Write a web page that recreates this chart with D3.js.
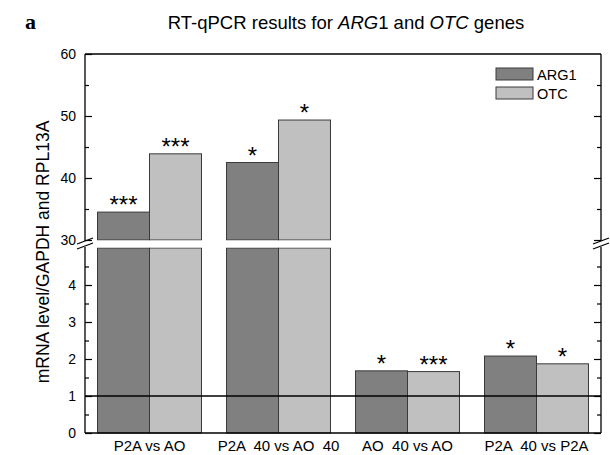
<!DOCTYPE html>
<html>
<head>
<meta charset="utf-8">
<script src="https://cdn.jsdelivr.net/npm/d3@7"></script>
<style>
  body { margin: 0; background: #fff; }
  svg { display: block; }
</style>
</head>
<body>
<div id="chart"></div>
<script>
// values
const groups = ["P2A vs AO", "P2A  40 vs AO  40", "AO  40 vs AO", "P2A  40 vs P2A"]
const arg1 = [34.5, 42.5, 1.68, 2.08]
const otc = [43.9, 49.35, 1.66, 1.87]
const arg1Stars = ["***", "*", "*", "*"]
const otcStars = ["***", "*", "***", "*"]
const lowTicks = [0, 1, 2, 3, 4]
const lowMinor = [0.5, 1.5, 2.5, 3.5, 4.5]
const highTicks = [30, 40, 50, 60]
const highMinor = [35, 45, 55]
const seriesNames = ["ARG1", "OTC"]
const seriesColors = ["#808080", "#c0c0c0"]

const width = 610, height = 455
const plotLeft = 85, plotRight = 601, plotTop = 54, plotBottom = 433
const breakLow = 248, breakHigh = 240
const font = "Liberation Sans, Arial, sans-serif"

const svg = d3.select("#chart").append("svg")
    .attr("width", width).attr("height", height)
    .style("font-family", font)

const x = d3.scaleBand().domain(groups).range([plotLeft, plotRight])
    .paddingInner(0.194).paddingOuter(0.097)
const sub = d3.scaleBand().domain([0, 1]).range([0, x.bandwidth()])

// broken y axis: two linear pieces
const yLow = d3.scaleLinear().domain([0, 5]).range([plotBottom, breakLow])
const yHigh = d3.scaleLinear().domain([30, 60]).range([breakHigh, plotTop])
const yOf = v => v > 5 ? yHigh(v) : yLow(v)

let bars = []
groups.forEach((g, i) => {
    bars.push({g, s: 0, v: arg1[i], star: arg1Stars[i]})
    bars.push({g, s: 1, v: otc[i], star: otcStars[i]})
})

const barG = svg.append("g")
bars.forEach(d => {
    let bx = x(d.g) + sub(d.s)
    let pieces = d.v > 5 ? [[yLow(0), yLow(5)], [yHigh(30), yHigh(d.v)]] : [[yLow(0), yLow(d.v)]]
    pieces.forEach(p => {
        barG.append("rect")
            .attr("x", bx).attr("y", p[1])
            .attr("width", sub.bandwidth()).attr("height", p[0] - p[1])
            .attr("fill", seriesColors[d.s])
            .attr("stroke", "#3a3a3a").attr("stroke-width", 1)
    })
    svg.append("text")
        .attr("x", bx + sub.bandwidth() / 2)
        .attr("y", yOf(d.v) + 1)
        .attr("text-anchor", "middle")
        .style("font-size", "24px")
        .text(d.star)
})

// white gap of the axis break
svg.append("rect")
    .attr("x", plotLeft + 1).attr("y", breakHigh + 0.5)
    .attr("width", plotRight - plotLeft - 2).attr("height", breakLow - breakHigh - 1)
    .attr("fill", "#fff")

// reference line at 1
svg.append("line")
    .attr("x1", plotLeft).attr("x2", plotRight)
    .attr("y1", yLow(1)).attr("y2", yLow(1))
    .attr("stroke", "#000").attr("stroke-width", 1.5)

// frame
const frame = svg.append("g").attr("stroke", "#000").attr("stroke-width", 1.3).attr("fill", "none")
frame.append("line").attr("x1", plotLeft).attr("x2", plotRight).attr("y1", plotTop).attr("y2", plotTop)
frame.append("line").attr("x1", plotLeft).attr("x2", plotRight).attr("y1", plotBottom).attr("y2", plotBottom)
;[plotLeft, plotRight].forEach(ax => {
    frame.append("line").attr("x1", ax).attr("x2", ax).attr("y1", plotTop).attr("y2", breakHigh + 1)
    frame.append("line").attr("x1", ax).attr("x2", ax).attr("y1", breakLow - 1).attr("y2", plotBottom)
    // break slashes
    frame.append("line").attr("x1", ax - 8).attr("x2", ax + 8).attr("y1", breakHigh + 4).attr("y2", breakHigh - 2)
    frame.append("line").attr("x1", ax - 8).attr("x2", ax + 8).attr("y1", breakLow + 1).attr("y2", breakLow - 5)
})

function styleAxis(g) {
    g.select(".domain").remove()
    g.selectAll("line").attr("stroke", "#000").attr("stroke-width", 1.2)
    g.selectAll("text").style("font-family", font).style("font-size", "14px").attr("fill", "#000")
}

const fmt = d3.format("d")

svg.append("g").attr("transform", `translate(${plotLeft},0)`)
    .call(d3.axisLeft(yLow).tickValues(lowTicks).tickFormat(fmt).tickSize(-7).tickPadding(9)).call(styleAxis)
svg.append("g").attr("transform", `translate(${plotLeft},0)`)
    .call(d3.axisLeft(yLow).tickValues(lowMinor).tickSize(-4).tickFormat("")).call(styleAxis)
svg.append("g").attr("transform", `translate(${plotLeft},0)`)
    .call(d3.axisLeft(yHigh).tickValues(highTicks).tickFormat(fmt).tickSize(-7).tickPadding(9)).call(styleAxis)
svg.append("g").attr("transform", `translate(${plotLeft},0)`)
    .call(d3.axisLeft(yHigh).tickValues(highMinor).tickSize(-4).tickFormat("")).call(styleAxis)

svg.append("g").attr("transform", `translate(${plotRight},0)`)
    .call(d3.axisRight(yLow).tickValues(lowTicks).tickSize(-7).tickFormat("")).call(styleAxis)
svg.append("g").attr("transform", `translate(${plotRight},0)`)
    .call(d3.axisRight(yLow).tickValues(lowMinor).tickSize(-4).tickFormat("")).call(styleAxis)
svg.append("g").attr("transform", `translate(${plotRight},0)`)
    .call(d3.axisRight(yHigh).tickValues(highTicks.slice(0, 3)).tickSize(-7).tickFormat("")).call(styleAxis)
svg.append("g").attr("transform", `translate(${plotRight},0)`)
    .call(d3.axisRight(yHigh).tickValues(highMinor).tickSize(-4).tickFormat("")).call(styleAxis)

svg.append("g").attr("transform", `translate(0,${plotBottom})`)
    .call(d3.axisBottom(x).tickSize(0).tickPadding(7))
    .call(styleAxis)
    .call(g => g.selectAll("text").style("font-size", "15px").style("white-space", "pre"))

// legend
seriesNames.forEach((name, i) => {
    svg.append("rect")
        .attr("x", 496).attr("y", 68 + i * 19)
        .attr("width", 37).attr("height", 12)
        .attr("fill", seriesColors[i]).attr("stroke", "#3a3a3a")
    svg.append("text")
        .attr("x", 537).attr("y", 80 + i * 19)
        .style("font-size", "14.5px")
        .text(name)
})

// y label
svg.append("text")
    .attr("transform", "translate(49,252) rotate(-90)")
    .attr("text-anchor", "middle")
    .style("font-size", "17.5px")
    .text("mRNA level/GAPDH and RPL13A")

// title
const title = svg.append("text")
    .attr("x", 346).attr("y", 29)
    .attr("text-anchor", "middle")
    .style("font-size", "18.5px")
title.append("tspan").text("RT-qPCR results for ")
title.append("tspan").style("font-style", "italic").text("ARG")
title.append("tspan").text("1 and ")
title.append("tspan").style("font-style", "italic").text("OTC")
title.append("tspan").text(" genes")

svg.append("text")
    .attr("x", 25).attr("y", 29)
    .style("font-family", "Liberation Serif, Times New Roman, serif")
    .style("font-weight", "bold")
    .style("font-size", "22px")
    .text("a")
</script>
</body>
</html>
